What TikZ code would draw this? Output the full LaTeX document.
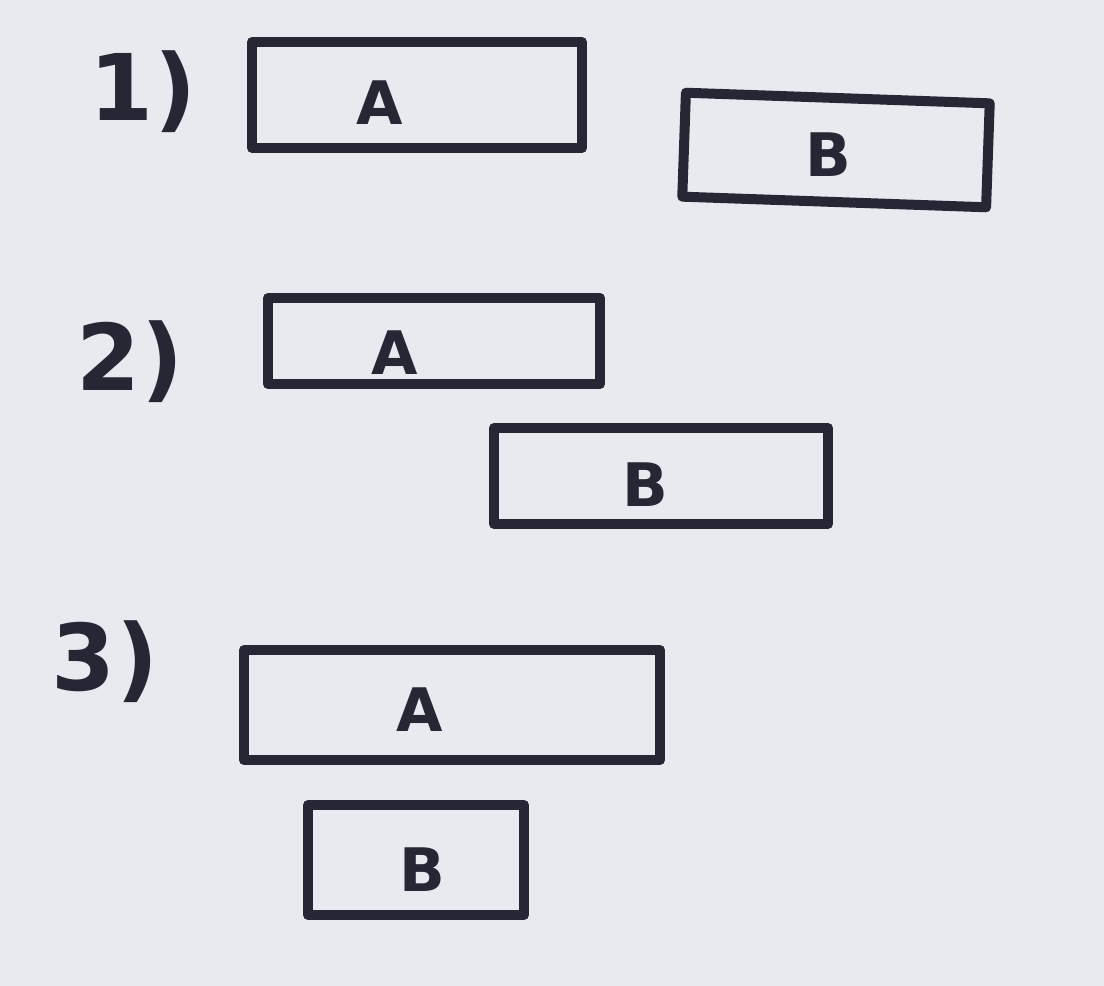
\documentclass[tikz,border=0pt]{standalone}
\usepackage{fontspec}
\setmainfont{DejaVu Sans}
\definecolor{paper}{RGB}{232,234,239}
\definecolor{ink}{RGB}{38,38,52}
\begin{document}
\begin{tikzpicture}[x=0.5pt,y=-0.5pt,
  box/.style={draw=ink,line width=5pt,line join=round,line cap=round,inner sep=0pt},
  letter/.style={text=ink,font=\bfseries\fontsize{30}{30}\selectfont,inner sep=0pt},
  num/.style={text=ink,font=\bfseries\fontsize{46}{46}\selectfont,inner sep=0pt}]
\fill[paper] (0,0) rectangle (1104,986);
\useasboundingbox (0,0) rectangle (1104,986);
% 1)
\node[num] (n1) at (143,92) {1)};
\node[box,minimum width=165pt,minimum height=53pt] (a1) at (417,95) {};
\node[letter] (la1) at (380,103) {A};
\node[box,minimum width=152pt,minimum height=52pt,rotate=-2] (b1) at (836,150) {};
\node[letter] (lb1) at (828,155) {B};
% 2)
\node[num] (n2) at (130,362) {2)};
\node[box,minimum width=166pt,minimum height=43pt] (a2) at (434,341) {};
\node[letter] (la2) at (395,353) {A};
\node[box,minimum width=167pt,minimum height=48pt] (b2) at (661,476) {};
\node[letter] (lb2) at (645,485) {B};
% 3)
\node[num] (n3) at (105,662) {3)};
\node[box,minimum width=208pt,minimum height=55pt] (a3) at (452,705) {};
\node[letter] (la3) at (420,710) {A};
\node[box,minimum width=108pt,minimum height=55pt] (b3) at (416,860) {};
\node[letter] (lb3) at (422,870) {B};
\end{tikzpicture}
\end{document}
